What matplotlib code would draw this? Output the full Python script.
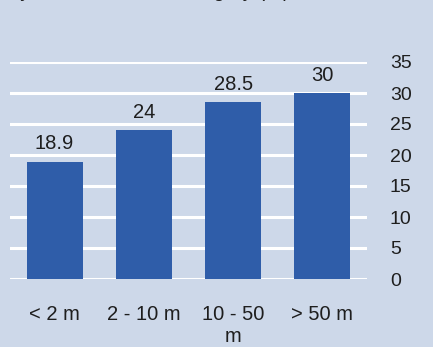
import matplotlib
matplotlib.use("Agg")
import matplotlib.pyplot as plt

categories = ["< 2 m", "2 - 10 m", "10 - 50\nm", "> 50 m"]
values = [18.9, 24, 28.5, 30]
yticks = [0, 5, 10, 15, 20, 25, 30, 35]

bg = "#CDD8E9"
bar_color = "#2F5DA9"
txt = "#1E1E1E"

plt.rcParams['font.family'] = ['Liberation Sans', 'DejaVu Sans']

fig = plt.figure(figsize=(4.33, 3.47), dpi=100, facecolor=bg)
ax = fig.add_axes([10/433, 1-279/347, (367-10)/433, (279-62)/347])
ax.set_facecolor(bg)

x = range(len(categories))
ax.bar(x, values, width=0.63, color=bar_color, zorder=3)
for xi, v in zip(x, values):
    ax.annotate(f"{v:g}", (xi, v), xytext=(0, 6), textcoords="offset points",
                ha="center", va="bottom", fontsize=14.5, color=txt)

ax.set_xlim(-0.5, len(categories) - 0.5)
ax.set_ylim(0, 35)
ax.set_yticks(yticks)
ax.yaxis.tick_right()
ax.tick_params(axis='y', length=0, pad=16.5, labelsize=14, labelcolor=txt)
for lbl in ax.get_yticklabels():
    lbl.set_horizontalalignment('left')
ax.set_xticks(list(x))
ax.set_xticklabels(categories, fontsize=14.5, color=txt, linespacing=1.2)
ax.tick_params(axis='x', length=0, pad=19)
ax.grid(axis='y', color='white', linewidth=2.2, zorder=1)
ax.set_axisbelow(True)
for s in ax.spines.values():
    s.set_visible(False)

fig.text(0.02, 1.0 + 3.0/347, "by stand diameter category (%)", fontsize=14.5,
         va='baseline', ha='left', color=txt)

fig.savefig("out.png", dpi=100, facecolor=bg)
